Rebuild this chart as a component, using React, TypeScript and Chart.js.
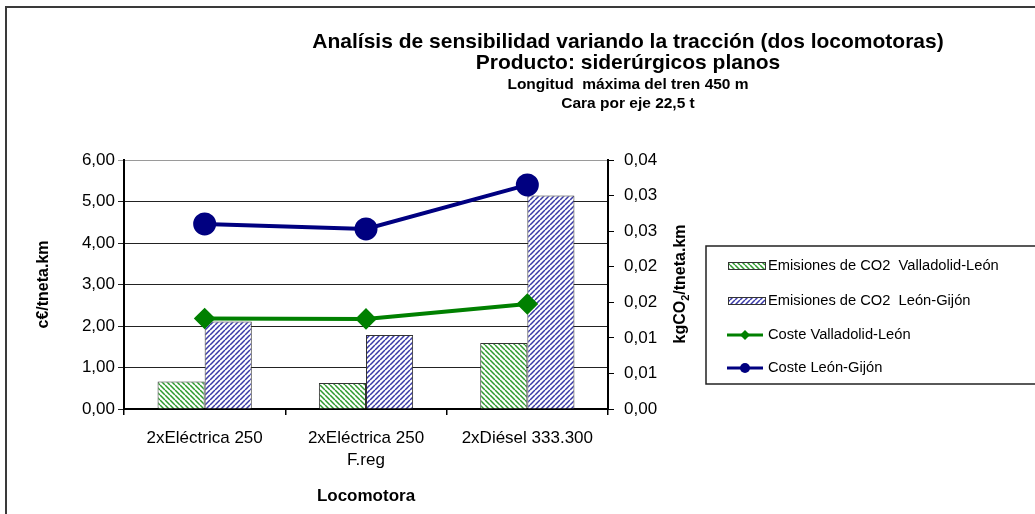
import React, { useEffect, useRef } from 'react';
import { Chart, registerables } from 'chart.js';

Chart.register(...registerables);

const categories: (string | string[])[] = ['2xEléctrica 250', ['2xEléctrica 250', 'F.reg'], '2xDiésel 333.300'];
const emisionesValladolidLeon = [0.00385, 0.00366, 0.00928];
const emisionesLeonGijon = [0.0123, 0.0104, 0.03];
const costeValladolidLeon = [2.18, 2.17, 2.53];
const costeLeonGijon = [4.46, 4.34, 5.4];
const leftTicks = [0, 1, 2, 3, 4, 5, 6];
const rightTicks = [0, 0.005, 0.01, 0.015, 0.02, 0.025, 0.03, 0.035];
const titleLines = ['Analísis de sensibilidad variando la tracción (dos locomotoras)', 'Producto: siderúrgicos planos'];
const subtitleLines = ['Longitud  máxima del tren 450 m', 'Cara por eje 22,5 t'];
const seriesLabels = [
  'Emisiones de CO2  Valladolid-León',
  'Emisiones de CO2  León-Gijón',
  'Coste Valladolid-León',
  'Coste León-Gijón',
];
const xTitle = 'Locomotora';
const leftTitle = 'c€/tneta.km';
const rightTitleParts = ['kgCO', '2', '/tneta.km'];

const FONT = '"Liberation Sans", Arial, sans-serif';
const W = 1035;
const H = 514;

const fmt = (v: number) => (Math.round(v * 100 + 1e-9) / 100).toFixed(2).replace('.', ',');

function stripe(ctx: CanvasRenderingContext2D, color: string, dir: 'down' | 'up') {
  const s = 5;
  const c = document.createElement('canvas');
  c.width = s;
  c.height = s;
  const g = c.getContext('2d')!;
  g.fillStyle = '#fff';
  g.fillRect(0, 0, s, s);
  g.strokeStyle = color;
  g.lineWidth = 1.5;
  g.beginPath();
  for (const k of [-s, 0, s]) {
    if (dir === 'down') {
      g.moveTo(k, 0);
      g.lineTo(k + s, s);
    } else {
      g.moveTo(k, s);
      g.lineTo(k + s, 0);
    }
  }
  g.stroke();
  return ctx.createPattern(c, 'repeat')!;
}

const decor = {
  id: 'decor',
  afterDraw(chart: any) {
    const ctx: CanvasRenderingContext2D = chart.ctx;
    ctx.save();
    // outer frame
    ctx.strokeStyle = '#3a3a3a';
    ctx.lineWidth = 2;
    ctx.beginPath();
    ctx.moveTo(6, H);
    ctx.lineTo(6, 7);
    ctx.lineTo(W, 7);
    ctx.stroke();

    // titles
    ctx.fillStyle = '#000';
    ctx.textAlign = 'center';
    ctx.textBaseline = 'middle';
    ctx.font = `bold 21px ${FONT}`;
    ctx.fillText(titleLines[0], 628, 42);
    ctx.fillText(titleLines[1], 628, 63);
    ctx.font = `bold 15.5px ${FONT}`;
    ctx.fillText(subtitleLines[0], 628, 85);
    ctx.fillText(subtitleLines[1], 628, 104);

    // right axis title (rotated, with subscript)
    ctx.save();
    ctx.translate(681, 284);
    ctx.rotate(-Math.PI / 2);
    ctx.textAlign = 'left';
    ctx.textBaseline = 'middle';
    const bigF = `bold 16px ${FONT}`;
    const subF = `bold 11px ${FONT}`;
    ctx.font = bigF;
    const w0 = ctx.measureText(rightTitleParts[0]).width;
    const w2 = ctx.measureText(rightTitleParts[2]).width;
    ctx.font = subF;
    const w1 = ctx.measureText(rightTitleParts[1]).width;
    let x = -(w0 + w1 + w2) / 2;
    ctx.font = bigF;
    ctx.fillText(rightTitleParts[0], x, 0);
    x += w0;
    ctx.font = subF;
    ctx.fillText(rightTitleParts[1], x, 5);
    x += w1;
    ctx.font = bigF;
    ctx.fillText(rightTitleParts[2], x, 0);
    ctx.restore();

    // legend box
    ctx.strokeStyle = '#222';
    ctx.lineWidth = 1.5;
    ctx.strokeRect(706, 246, 400, 138);
    const ys = [266, 301, 335, 368];
    ctx.font = `14.7px ${FONT}`;
    ctx.textAlign = 'left';
    ctx.textBaseline = 'middle';
    chart.data.datasets.forEach((ds: any, i: number) => {
      const y = ys[i];
      if (ds.type === 'bar') {
        ctx.fillStyle = ds.backgroundColor;
        ctx.fillRect(728, y - 4, 38, 8);
        ctx.strokeStyle = '#333';
        ctx.lineWidth = 1;
        ctx.strokeRect(728.5, y - 3.5, 37, 7);
      } else {
        ctx.strokeStyle = ds.borderColor;
        ctx.lineWidth = 3;
        ctx.beginPath();
        ctx.moveTo(727, y);
        ctx.lineTo(763, y);
        ctx.stroke();
        ctx.fillStyle = ds.borderColor;
        ctx.beginPath();
        if (ds.pointStyle === 'rectRot') {
          ctx.moveTo(745, y - 5);
          ctx.lineTo(750, y);
          ctx.lineTo(745, y + 5);
          ctx.lineTo(740, y);
        } else {
          ctx.arc(745, y, 5, 0, Math.PI * 2);
        }
        ctx.fill();
      }
      ctx.fillStyle = '#000';
      ctx.fillText(ds.label, 768, y);
    });
    ctx.restore();
  },
};

export default function App() {
  const ref = useRef<HTMLCanvasElement | null>(null);
  useEffect(() => {
    const canvas = ref.current!;
    const ctx = canvas.getContext('2d')!;
    const greenPat = stripe(ctx, '#2f9a2f', 'down');
    const bluePat = stripe(ctx, '#3a3aa8', 'up');
    const tickFont = { family: FONT, size: 17 };
    const chart = new Chart(canvas, {
      type: 'bar',
      data: {
        labels: categories as any,
        datasets: [
          {
            type: 'bar',
            label: seriesLabels[0],
            data: emisionesValladolidLeon,
            yAxisID: 'y1',
            backgroundColor: greenPat as any,
            borderColor: '#333',
            borderWidth: 1,
            categoryPercentage: 0.584,
            barPercentage: 1,
            order: 2,
          },
          {
            type: 'bar',
            label: seriesLabels[1],
            data: emisionesLeonGijon,
            yAxisID: 'y1',
            backgroundColor: bluePat as any,
            borderColor: '#333',
            borderWidth: 1,
            categoryPercentage: 0.584,
            barPercentage: 1,
            order: 2,
          },
          {
            type: 'line',
            label: seriesLabels[2],
            data: costeValladolidLeon,
            yAxisID: 'y',
            borderColor: '#008000',
            backgroundColor: '#008000',
            borderWidth: 4,
            pointStyle: 'rectRot',
            pointRadius: 8,
            pointBackgroundColor: '#008000',
            pointBorderColor: '#008000',
            tension: 0,
            order: 1,
          } as any,
          {
            type: 'line',
            label: seriesLabels[3],
            data: costeLeonGijon,
            yAxisID: 'y',
            borderColor: '#000080',
            backgroundColor: '#000080',
            borderWidth: 4,
            pointStyle: 'circle',
            pointRadius: 9.5,
            pointBackgroundColor: '#000080',
            pointBorderColor: '#000080',
            tension: 0,
            order: 1,
          } as any,
        ],
      },
      options: {
        responsive: false,
        animation: false,
        devicePixelRatio: 1,
        layout: { padding: { top: 160, left: 0, right: 0, bottom: 0 } },
        plugins: {
          legend: { display: false },
          title: { display: false },
          tooltip: { enabled: false },
        },
        scales: {
          x: {
            type: 'category',
            offset: true,
            grid: { display: true, drawOnChartArea: false, offset: true, tickLength: 6, color: '#000', lineWidth: 1.5 },
            border: { color: '#000', width: 2 },
            ticks: { font: { ...tickFont, lineHeight: 1.25 }, color: '#000', padding: 13, maxRotation: 0, autoSkip: false },
            title: {
              display: true,
              text: xTitle,
              color: '#000',
              font: { family: FONT, size: 17, weight: 'bold' },
              padding: { top: 0, bottom: 7 },
            },
            afterFit: (s: any) => {
              s.height = 105;
            },
          },
          y: {
            position: 'left',
            min: 0,
            max: 6,
            afterBuildTicks: (s: any) => {
              s.ticks = leftTicks.map((v) => ({ value: v }));
            },
            ticks: { font: tickFont, color: '#000', padding: 3, callback: (v: any) => fmt(Number(v)) },
            grid: {
              color: (c: any) => (c.tick && c.tick.value === 6 ? '#9a9a9a' : '#222'),
              lineWidth: 1,
              tickLength: 6,
            },
            border: { color: '#000', width: 2 },
            title: {
              display: true,
              text: leftTitle,
              color: '#000',
              font: { family: FONT, size: 16, weight: 'bold' },
              padding: { top: 34, bottom: 0 },
            },
            afterFit: (s: any) => {
              s.width = 124;
            },
          },
          y1: {
            position: 'right',
            min: 0,
            max: 0.035,
            afterBuildTicks: (s: any) => {
              s.ticks = rightTicks.map((v) => ({ value: v }));
            },
            ticks: { font: tickFont, color: '#000', padding: 10, callback: (v: any) => fmt(Number(v)) },
            grid: { drawOnChartArea: false, tickLength: 6, color: '#000', lineWidth: 1 },
            border: { color: '#000', width: 2 },
            afterFit: (s: any) => {
              s.width = W - 608;
            },
          },
        },
      } as any,
      plugins: [decor],
    });
    return () => chart.destroy();
  }, []);

  return (
    <div style={{ position: 'absolute', left: 0, top: 0, width: W, height: H, background: '#fff' }}>
      <canvas ref={ref} width={W} height={H} style={{ display: 'block', width: W, height: H }} />
    </div>
  );
}
